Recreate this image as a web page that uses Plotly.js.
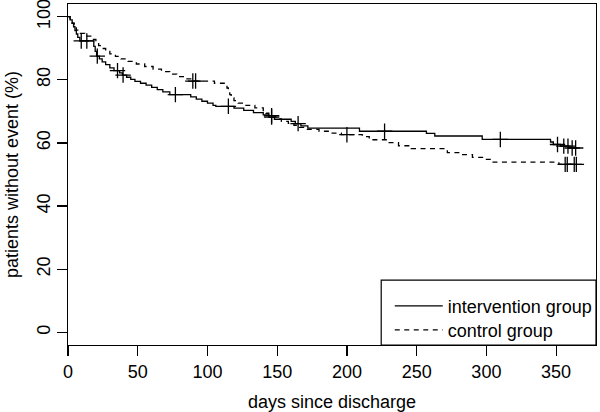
<!DOCTYPE html>
<html>
<head>
<meta charset="utf-8">
<script src="https://cdn.plot.ly/plotly-3.0.1.min.js"></script>
<style>html,body{margin:0;padding:0;background:#fff}#chart{width:600px;height:412px}</style>
</head>
<body>
<div id="chart"></div>
<script>
// Kaplan-Meier step curves (days, % without event)
const interventionDays = [0, 1.5, 3, 4, 5, 6, 7, 8.5, 18.5, 19.5, 20.5, 22.5, 24.5, 27, 30, 33, 37, 39, 42, 45, 48, 52, 56, 60, 64, 68, 73, 88, 92, 96, 100, 104, 106, 119, 126, 133, 140, 144, 148, 160, 163, 167, 172, 209, 257, 263, 297, 346, 348, 353, 359, 365];
const interventionSurv = [100, 99, 97.9, 96.8, 95.6, 94.5, 93.4, 92.3, 90.6, 89.0, 87.5, 86.6, 85.7, 84.8, 83.8, 82.9, 82.2, 81.5, 80.8, 80.1, 79.5, 78.9, 78.3, 77.6, 76.9, 76.2, 75.3, 74.6, 73.9, 73.2, 72.6, 71.9, 71.6, 71.0, 70.3, 69.6, 68.9, 68.2, 67.5, 66.8, 66.1, 65.4, 64.7, 63.7, 63.0, 62.2, 61.1, 60.3, 59.5, 59.0, 58.4, 58.4];
const interventionCensored = [9.5, 13.5, 21, 35.5, 39.5, 77, 115, 146, 165, 227, 310, 351, 355.5, 358.5, 361.5, 364];

const controlDays = [0, 1.5, 3, 4.5, 6, 8, 12, 17, 20, 22, 24, 27, 30, 34, 38, 43, 49, 55, 61, 67, 73, 78, 84, 88, 105, 112, 114, 115, 116, 117, 119, 122, 127, 134, 140, 142, 144, 149, 153, 158, 162, 166, 171, 180, 188, 196, 211, 216, 229, 237, 246, 272, 283, 290, 298, 304, 352, 365];
const controlSurv = [100, 99, 97.9, 96.8, 95.7, 94.7, 93.8, 92.8, 91.8, 90.8, 89.9, 89.0, 88.2, 87.4, 86.6, 85.8, 85.0, 84.2, 83.4, 82.6, 81.8, 81.0, 80.3, 79.6, 78.9, 78.2, 77.4, 76.3, 75.3, 74.3, 73.4, 72.6, 71.9, 71.1, 70.2, 69.4, 68.6, 67.6, 66.8, 66.2, 65.6, 64.9, 64.3, 63.7, 63.1, 62.6, 62.0, 61.0, 60.1, 59.1, 58.2, 56.9, 56.3, 55.4, 54.8, 53.9, 53.2, 53.2];
const controlCensored = [89.5, 91.5, 146, 200, 356.5, 358, 363, 364.5];

const seriesNames = ['intervention group', 'control group'];
const xTicks = [0, 50, 100, 150, 200, 250, 300, 350];
const yTicks = [0, 20, 40, 60, 80, 100];

function survAt(days, surv, t) {
  let v = surv[0];
  for (let i = 0; i < days.length; i++) { if (days[i] <= t) v = surv[i]; }
  return v;
}

const FONT = 'Liberation Sans, Arial, Helvetica, sans-serif';
const traces = [
  {x: interventionDays, y: interventionSurv, name: seriesNames[0], mode: 'lines', legend: 'legend',
   line: {shape: 'hv', color: '#000', width: 1.3}},
  {x: controlDays, y: controlSurv, name: seriesNames[1], mode: 'lines', legend: 'legend2',
   line: {shape: 'hv', color: '#000', width: 1.3, dash: '5px,4.5px'}},
  {x: interventionCensored, y: interventionCensored.map(t => survAt(interventionDays, interventionSurv, t)),
   mode: 'markers', showlegend: false, hoverinfo: 'skip',
   marker: {symbol: 'cross-thin', size: 11, line: {width: 1.3, color: '#000'}, color: '#000'}},
  {x: controlCensored, y: controlCensored.map(t => survAt(controlDays, controlSurv, t)),
   mode: 'markers', showlegend: false, hoverinfo: 'skip',
   marker: {symbol: 'cross-thin', size: 11, line: {width: 1.3, color: '#000'}, color: '#000'}}
];

const legendCommon = {xanchor: 'left', yanchor: 'top', bgcolor: 'rgba(0,0,0,0)', borderwidth: 0,
                      itemwidth: 48, font: {family: FONT, size: 18, color: '#000'}};

const layout = {
  width: 600, height: 412,
  margin: {l: 68, r: 2, t: 4, b: 67},
  paper_bgcolor: '#fff', plot_bgcolor: '#fff',
  font: {family: FONT, size: 18, color: '#000'},
  showlegend: true,
  legend: Object.assign({x: 0.6094, y: 0.168}, legendCommon),
  legend2: Object.assign({x: 0.6094, y: 0.098}, legendCommon),
  xaxis: {range: [0, 378.6], tickvals: xTicks, ticks: 'outside', ticklen: 10, tickwidth: 1.2,
          tickcolor: '#000', showline: true, mirror: true, linecolor: '#000', linewidth: 1.2,
          showgrid: false, zeroline: false, tickfont: {size: 18},
          title: {text: 'days since discharge', font: {size: 18}, standoff: 16}},
  yaxis: {range: [-4, 104], tickvals: yTicks, ticks: 'outside', ticklen: 10, tickwidth: 1.2,
          tickcolor: '#000', tickangle: -90, ticklabeloverflow: 'allow',
          showline: true, mirror: true, linecolor: '#000', linewidth: 1.2,
          showgrid: false, zeroline: false, tickfont: {size: 18},
          title: {text: 'patients without event (%)', font: {size: 18}, standoff: 10}},
  shapes: [{type: 'rect', xref: 'paper', yref: 'paper', x0: 0.5932, x1: 1, y0: 0, y1: 0.19,
            line: {color: '#000', width: 1.2}, fillcolor: 'rgba(0,0,0,0)'}]
};

Plotly.newPlot('chart', traces, layout, {displayModeBar: false, staticPlot: true});
</script>
</body>
</html>
